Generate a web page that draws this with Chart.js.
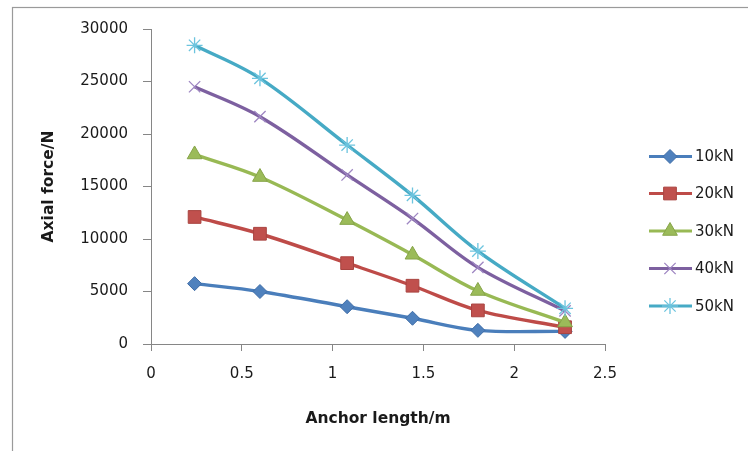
<!DOCTYPE html>
<html>
<head>
<meta charset="utf-8">
<script src="https://cdn.jsdelivr.net/npm/chart.js@4.4.1/dist/chart.umd.min.js"></script>
<style>
html,body{margin:0;padding:0;background:#fff;}
#wrap{position:relative;width:748px;height:451px;}
</style>
</head>
<body>
<div id="wrap"><canvas id="c" width="748" height="451"></canvas></div>
<script>
const anchorLength = [0.24, 0.6, 1.08, 1.44, 1.8, 2.28];
const seriesNames = ['10kN', '20kN', '30kN', '40kN', '50kN'];
const force10 = [5750, 5000, 3550, 2450, 1300, 1200];
const force20 = [12100, 10500, 7700, 5550, 3200, 1600];
const force30 = [18050, 15900, 11800, 8500, 5050, 2050];
const force40 = [24500, 21650, 16100, 11950, 7300, 3150];
const force50 = [28450, 25300, 18950, 14150, 8850, 3400];
const xTicks = [0, 0.5, 1, 1.5, 2, 2.5];
const yTicks = [0, 5000, 10000, 15000, 20000, 25000, 30000];

const allValues = [force10, force20, force30, force40, force50];
const lineColors = ['#4A7EBB', '#BE4B48', '#98B954', '#7D60A0', '#46AAC5'];
const markerFill = ['#4F81BD', '#C0504D', '#9BBB59', '#8064A2', '#4BACC6'];
const markerStroke = ['#3F6DA7', '#A94440', '#86A448', '#9E86C2', '#6CC4DE'];
const markerStyle = ['rectRot', 'rect', 'triangle', 'crossRot', 'star'];
const markerRadius = [7, 9, 8.5, 8, 8];
const markerBorder = [1, 1, 1, 1.3, 1.3];

const datasets = seriesNames.map((name, i) => ({
  label: name,
  data: anchorLength.map((x, j) => ({x: x, y: allValues[i][j]})),
  borderColor: lineColors[i],
  backgroundColor: markerFill[i],
  pointBackgroundColor: markerFill[i],
  pointBorderColor: markerStroke[i],
  pointBorderWidth: markerBorder[i],
  pointStyle: markerStyle[i],
  pointRadius: markerRadius[i],
  pointHoverRadius: markerRadius[i],
  borderWidth: 3.4,
  tension: 0.35,
  fill: false,
  order: seriesNames.length - 1 - i
}));

const frameAndLegend = {
  id: 'frameAndLegend',
  beforeDraw(chart) {
    const ctx = chart.ctx;
    ctx.save();
    ctx.fillStyle = '#fff';
    ctx.fillRect(0, 0, chart.width, chart.height);
    ctx.strokeStyle = '#9a9a9a';
    ctx.lineWidth = 1.2;
    ctx.strokeRect(12.5, 7.5, 900, 600);
    ctx.restore();
  },
  afterDraw(chart) {
    const ctx = chart.ctx;
    const x0 = 649, x1 = 692, mx = 670, tx = 695;
    const ys = [156.5, 193.5, 231, 268.5, 306];
    ctx.save();
    chart.data.datasets.forEach((ds, i) => {
      const y = ys[i];
      ctx.strokeStyle = ds.borderColor;
      ctx.lineWidth = 3;
      ctx.beginPath();
      ctx.moveTo(x0, y);
      ctx.lineTo(x1, y);
      ctx.stroke();
      ctx.fillStyle = ds.pointBackgroundColor;
      ctx.strokeStyle = ds.pointBorderColor;
      ctx.lineWidth = ds.pointBorderWidth;
      if (Chart.helpers && Chart.helpers.drawPoint) {
        Chart.helpers.drawPoint(ctx, {pointStyle: ds.pointStyle, radius: ds.pointRadius, rotation: 0, borderWidth: ds.pointBorderWidth}, mx, y);
      }
      ctx.fillStyle = '#1a1a1a';
      ctx.font = '15px "DejaVu Sans"';
      ctx.textBaseline = 'middle';
      ctx.textAlign = 'left';
      ctx.fillText(ds.label, tx, y + 1);
    });
    ctx.restore();
  }
};

new Chart(document.getElementById('c'), {
  type: 'line',
  data: { datasets: datasets },
  plugins: [frameAndLegend],
  options: {
    responsive: false,
    animation: false,
    devicePixelRatio: 1,
    layout: { padding: { left: 0, right: 143, top: 29, bottom: 0 } },
    plugins: { legend: { display: false }, tooltip: { enabled: false } },
    scales: {
      x: {
        type: 'linear',
        min: 0, max: 2.5,
        afterBuildTicks(s) { s.ticks = xTicks.map(v => ({value: v})); },
        afterFit(s) { s.height = 107; },
        grid: { drawOnChartArea: false, drawTicks: true, tickLength: 7, color: '#868686', lineWidth: 1 },
        border: { color: '#868686', width: 1 },
        ticks: { color: '#1a1a1a', font: { family: 'DejaVu Sans', size: 15 }, padding: 14, maxRotation: 0,
          callback: v => String(v) },
        title: { display: true, text: 'Anchor length/m', color: '#1a1a1a',
          font: { family: 'DejaVu Sans', size: 15.5, weight: 'bold' }, padding: { top: 0, bottom: 23 } }
      },
      y: {
        min: 0, max: 30000,
        afterBuildTicks(s) { s.ticks = yTicks.map(v => ({value: v})); },
        afterFit(s) { s.width = 151; },
        grid: { drawOnChartArea: false, drawTicks: true, tickLength: 8, color: '#868686', lineWidth: 1 },
        border: { color: '#868686', width: 1 },
        ticks: { color: '#1a1a1a', font: { family: 'DejaVu Sans', size: 15 }, padding: 15,
          callback: v => String(v) },
        title: { display: true, text: 'Axial force/N', color: '#1a1a1a',
          font: { family: 'DejaVu Sans', size: 15.5, weight: 'bold' }, padding: { top: 40, bottom: 0 } }
      }
    }
  }
});
</script>
</body>
</html>
